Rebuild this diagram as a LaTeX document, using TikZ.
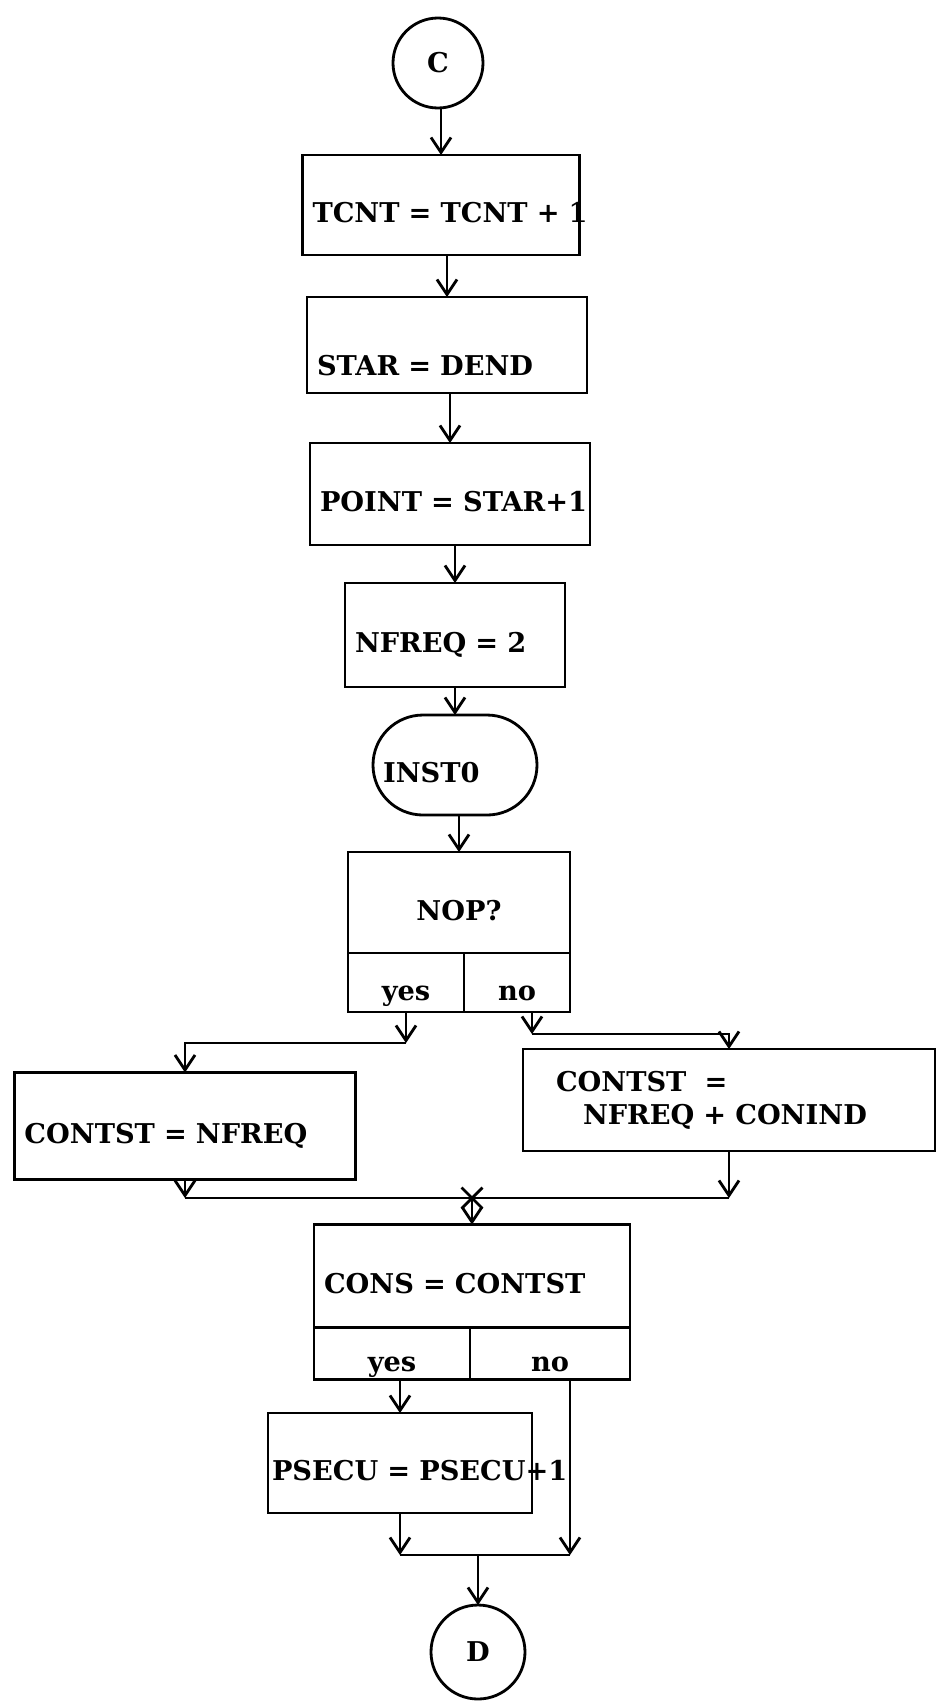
\documentclass[tikz,border=0pt]{standalone}
\usepackage{fontspec}
\setmainfont{DejaVu Serif}
\usetikzlibrary{positioning, arrows.meta, shapes.misc}

\begin{document}
\begin{tikzpicture}[
    x=0.2mm, y=-0.2mm,
    font=\fontsize{15.5}{18.6}\selectfont\bfseries,
    line width=1.6pt,
    block/.style={draw, align=left, inner xsep=2mm, inner ysep=0pt, outer sep=0pt, minimum height=20mm, text height=7mm, text depth=0pt},
    cell/.style={draw, inner sep=0pt, outer sep=0pt, minimum height=11.8mm, anchor=north west, text height=7mm, text depth=0pt},
    term/.style={draw, rounded corners=10mm, align=left, inner xsep=2mm, outer sep=0pt, minimum height=20mm, text height=7mm, text depth=0pt},
    conn/.style={draw, circle, minimum size=18mm, inner sep=0pt, outer sep=0pt},
    arrow/.style={-{Straight Barb[length=3mm, width=4mm]}}
]
\useasboundingbox (0,0) rectangle (937,1702);

% Nodes
\node[conn] (c) at (438,63) {C};

\node[block, text width=51.4mm, below=9.4mm of c, xshift=0.6mm] (tcnt) {\mbox{TCNT = TCNT + 1}};

\node[block, text width=52mm, minimum height=19.2mm, text height=12mm, below=8.4mm of tcnt, xshift=1.2mm] (star) {STAR = DEND};

\node[block, text width=52mm, minimum height=20.4mm, below=10mm of star, xshift=0.6mm] (point) {\mbox{POINT = STAR+1}};

\node[block, text width=40mm, minimum height=20.8mm, below=7.6mm of point, xshift=1mm] (nfreq) {NFREQ = 2};

\node[term, text width=28.8mm, below=5.6mm of nfreq] (inst) {INST0};

\node[block, text width=40.4mm, minimum height=20.2mm, align=center, below=7.4mm of inst, xshift=0.8mm] (nop) {NOP?};
\node[cell, minimum width=23.2mm] (nopyes) at (nop.south west) {yes};
\node[cell, minimum width=21.2mm] (nopno) at (nopyes.north east) {no};

\node[block, text width=64.2mm, minimum height=21.4mm] (cfreq) at (185,1126) {CONTST = NFREQ};

\node[block, text width=78.4mm, minimum height=20.4mm, text height=, text depth=] (cconind) at (729,1100) {\hspace*{4.6mm}CONTST\ \ =\\\hspace*{10mm}NFREQ + CONIND};

\node[block, text width=59.2mm, minimum height=20.6mm] (cons) at (472,1276) {CONS = CONTST};
\node[cell, minimum width=31.2mm, minimum height=10.4mm] (consyes) at (cons.south west) {yes};
\node[cell, minimum width=32mm, minimum height=10.4mm] (consno) at (consyes.north east) {no};

\node[block, text width=51.2mm, inner xsep=0.8mm] (psecu) at (400,1463) {\mbox{PSECU = PSECU+1}};

\node[conn, minimum size=18.8mm] (d) at (478,1652) {D};

% Connections
\draw[arrow] (tcnt.north |- c.south) -- (tcnt.north);
\draw[arrow] (star.north |- tcnt.south) -- (star.north);
\draw[arrow] (point.north |- star.south) -- (point.north);
\draw[arrow] (nfreq.north |- point.south) -- (nfreq.north);
\draw[arrow] (inst.north |- nfreq.south) -- (inst.north);
\draw[arrow] (nop.north |- inst.south) -- (nop.north);

% yes / no out of NOP?
\coordinate (yesbend) at (nopyes.south |- 0,1043);
\coordinate (nodrop) at ([xshift=3mm]nopno.south);
\coordinate (nobend) at (nodrop |- 0,1034);
\draw[arrow] (nopyes.south) -- (yesbend);
\draw[arrow] (yesbend) -- (yesbend -| cfreq.north) -- (cfreq.north);
\draw[arrow] (nodrop) -- (nobend);
\draw[arrow] (nobend) -- (nobend -| cconind.north) -- (cconind.north);

% both ways meet above CONS
\coordinate (merge) at (cons.north |- 0,1198);
\draw[arrow] (cfreq.south) -- (cfreq.south |- merge);
\draw[arrow] (cconind.south) -- (cconind.south |- merge);
\draw (cfreq.south |- merge) -- (cconind.south |- merge);
\node[draw, cross out, minimum size=3.6mm, inner sep=0pt] (mark) at (merge) {};
\draw[arrow] (merge) -- (cons.north);

% yes / no out of CONS
\coordinate (dmerge) at (d.north |- 0,1555);
\coordinate (nodrop2) at ([xshift=4mm]consno.south);
\draw[arrow] (psecu.north |- consyes.south) -- (psecu.north);
\draw[arrow] (psecu.south) -- (psecu.south |- dmerge);
\draw[arrow] (nodrop2) -- (nodrop2 |- dmerge);
\draw (psecu.south |- dmerge) -- (nodrop2 |- dmerge);
\draw[arrow] (dmerge) -- (d.north);

\end{tikzpicture}
\end{document}
